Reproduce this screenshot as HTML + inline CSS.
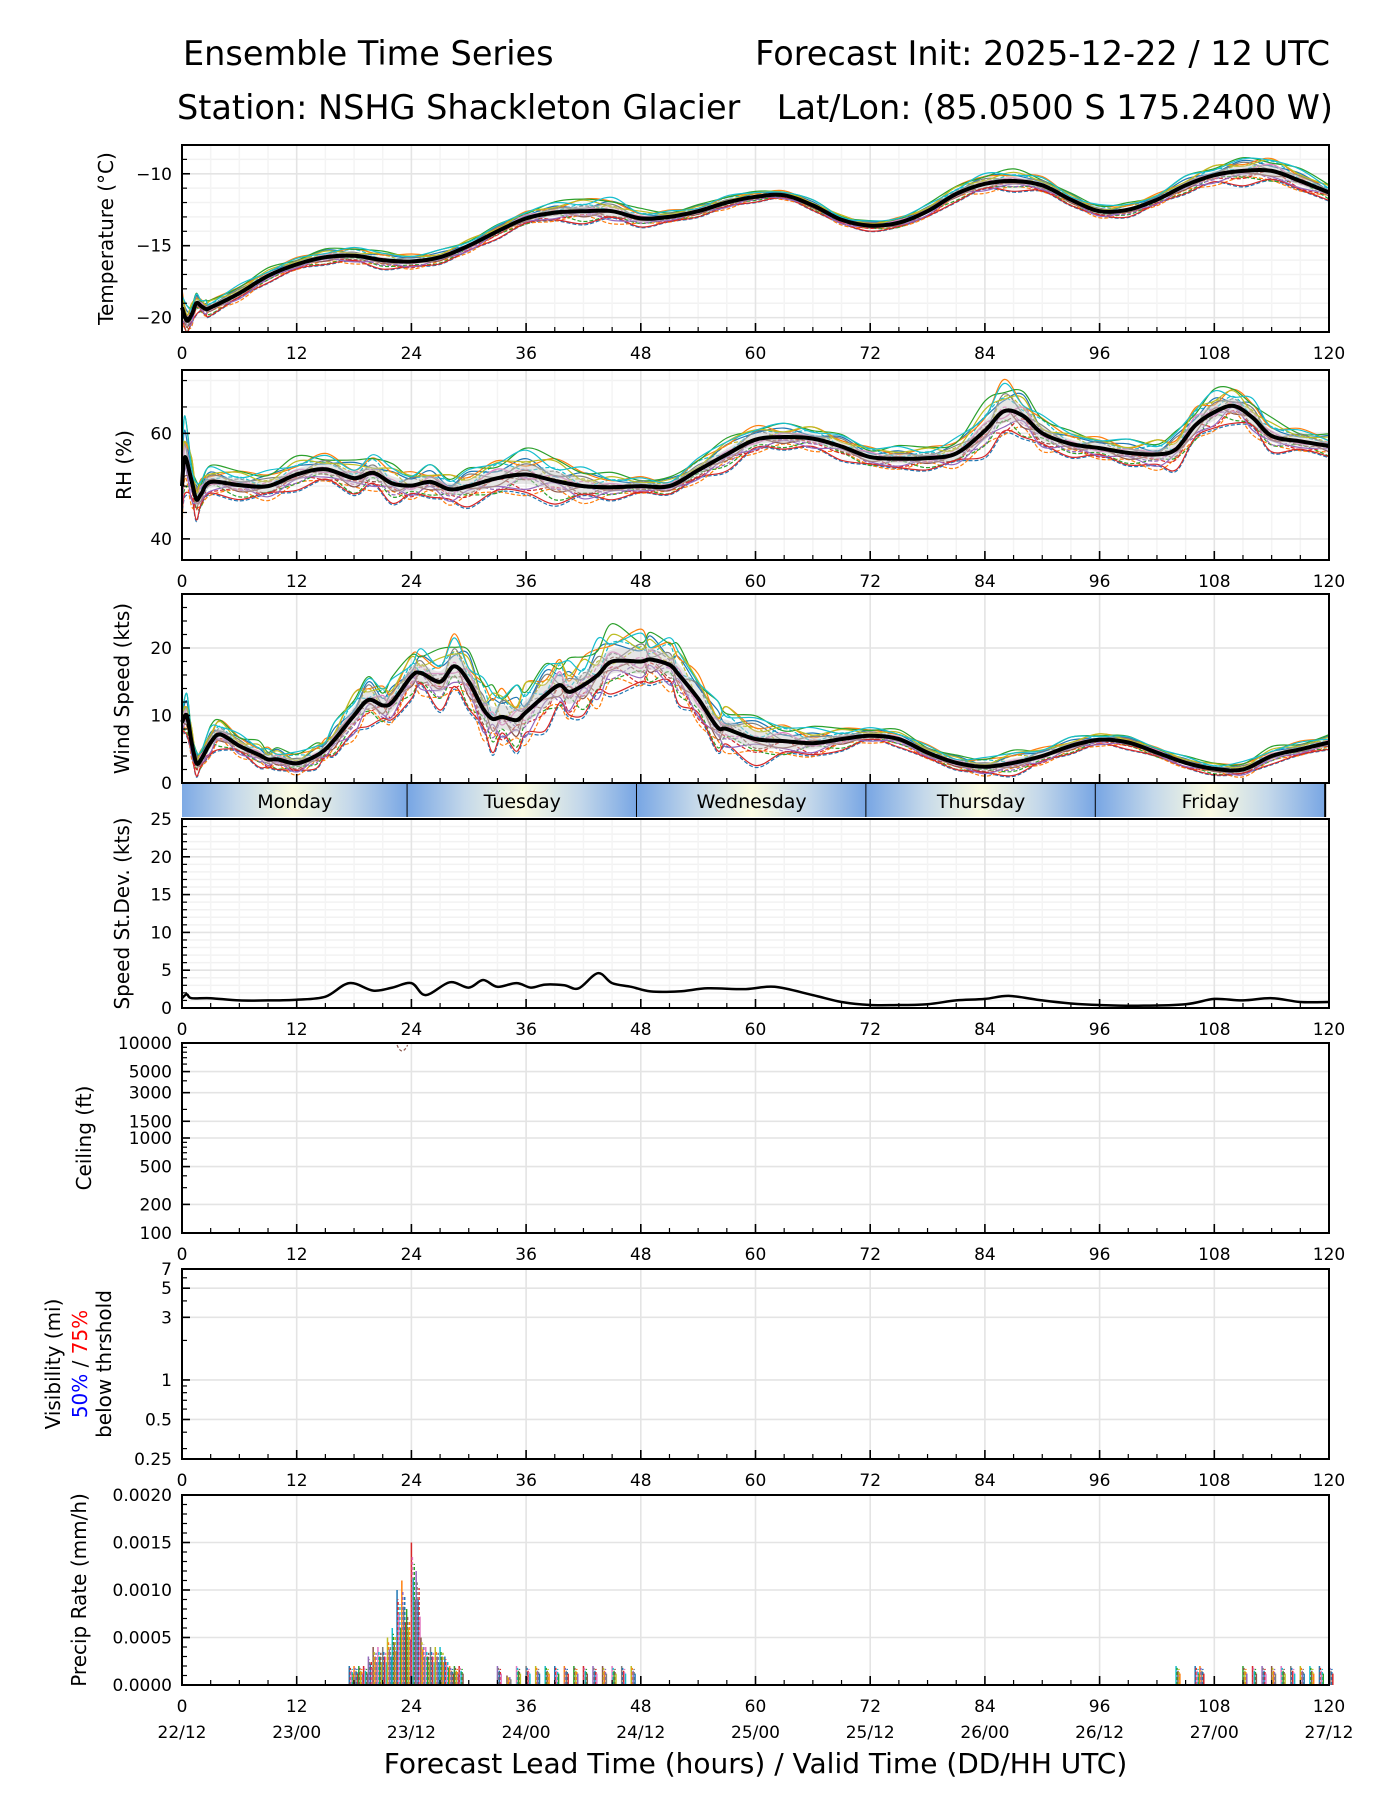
<!DOCTYPE html>
<html><head><meta charset="utf-8">
<style>
html,body{margin:0;padding:0;background:#fff;}
svg{display:block;font-family:"DejaVu Sans","Liberation Sans",sans-serif;}
</style></head>
<body>
<svg id="chart" width="1400" height="1800" viewBox="0 0 1400 1800" xmlns="http://www.w3.org/2000/svg">
<rect width="1400" height="1800" fill="#fff"/>
<text x="183" y="65" font-size="33.5">Ensemble Time Series</text>
<text x="1330" y="65" font-size="33.5" text-anchor="end">Forecast Init: 2025-12-22 / 12 UTC</text>
<text x="177" y="119" font-size="33.5">Station: NSHG Shackleton Glacier</text>
<text x="1333" y="119" font-size="33.5" text-anchor="end">Lat/Lon: (85.0500 S 175.2400 W)</text>
<g id="g"></g>
</svg>
<script>
// ---------- data ----------
const tempHours = [0,0.5,1,1.5,2,2.5,3,6,9,12,15,18,21,24,27,30,33,36,39,42,45,48,51,54,57,60,63,66,69,72,75,78,81,84,87,90,93,96,99,102,105,108,111,114,117,120];
const tempMean  = [-19.3,-20.2,-19.8,-19.0,-19.2,-19.4,-19.3,-18.3,-17.1,-16.3,-15.8,-15.7,-16.0,-16.1,-15.8,-15.0,-14.0,-13.1,-12.7,-12.6,-12.6,-13.1,-13.0,-12.6,-12.0,-11.6,-11.5,-12.2,-13.2,-13.6,-13.4,-12.6,-11.4,-10.7,-10.5,-10.8,-11.8,-12.6,-12.5,-11.8,-10.8,-10.1,-9.8,-9.8,-10.5,-11.3];
const tempSpread= [1.2,0.8,0.7,0.6,0.5,0.5,0.5,0.5,0.4,0.4,0.5,0.5,0.5,0.5,0.4,0.4,0.4,0.5,0.6,0.8,0.8,0.5,0.4,0.4,0.4,0.3,0.3,0.3,0.3,0.3,0.4,0.4,0.5,0.6,0.6,0.5,0.4,0.4,0.4,0.4,0.5,0.6,0.8,0.9,0.7,0.5];

const rhHours = [0,0.3,1,1.5,2,3,6,9,12,15,18,20,22,24,26,28,30,33,36,39,42,45,48,51,54,57,60,63,66,69,72,75,78,81,84,86,88,90,93,96,99,102,104,106,108,110,112,114,117,120];
const rhMean  = [50,55.5,51,47.5,48.5,50.8,50.2,50,52.2,53.2,51.5,52.5,50.5,50.1,50.8,49.4,50,51.5,52.2,51,50,49.8,50,50,53,56,58.8,59.3,59,57.5,55.5,55.2,55.3,56.2,60.5,64.2,63.3,60,58,57.2,56.3,56,57,61.5,64,65.2,63,59.5,58.5,57.6];
const rhSpread= [8,6,4,3,3,2.5,2.5,2.5,2.5,2.5,3,3,3,2.5,2.5,2.5,3,3.5,4,4,3,2,1.5,1.5,2,2.5,2.5,2,2,2,2,2,2,2.5,4,5,4,3,2,2,2,2.5,3,3.5,3.5,3,3,2.5,2,2];

const windHours = [0,0.5,1,1.5,2,3,4,6,8,9,10,12,14,15,16,18,19.5,21,22,24,25,27,28.5,30,31.5,32.5,33.5,35,36,38,39.5,40.5,42,43.5,45,48,49,51,52,54,56,57,60,63,66,69,72,75,78,81,84,87,90,93,96,99,102,105,108,111,114,117,120];
const windMean  = [9,10,6,3,3.5,6,7.2,5.5,4.2,3.5,3.5,2.9,4,5,6.5,10,12.3,11.5,12,15.8,16.3,15,17.3,15,11,9.5,9.8,9.3,10.5,13,14.5,13.5,14.5,16,18,18,18.3,17.5,16,12.5,8.3,8,6.5,6.2,5.9,6.5,7.0,6.5,4.5,3.0,2.4,3.0,4.0,5.5,6.4,6.0,4.5,3.0,2.1,2.0,4.0,5.0,6.0];
const windSpread= [2,2.5,2,1.5,1.5,2,2,1.5,1.5,1.5,1.5,1.5,1.5,1.5,2,3,3,3,3,3,3,3.5,4,4,4,4,4,4,4,4,4,4,4,4.5,4,4,3.5,3.5,3.5,3.5,3,3,3,2.5,2,1.5,1,1,1,1,1.2,1.5,1.2,1,0.8,0.8,0.8,0.8,0.8,1,1,1,1];

const sdHours = [0,0.5,1,3,6,9,12,15,17.5,20,22,24,25.5,28,30,31.5,33,35,36.5,38,40,41.5,43.5,45,47,49,52,55,59,62,66,69,72,75,78,81,84,86.5,90,93,96,100,105,108,111,114,117,120];
const sdMean  = [1.3,1.8,1.3,1.3,1.0,1.0,1.1,1.5,3.3,2.3,2.7,3.3,1.7,3.4,2.7,3.7,2.8,3.3,2.7,3.1,3.0,2.6,4.6,3.3,2.8,2.2,2.2,2.6,2.5,2.8,1.7,0.8,0.4,0.4,0.5,1.0,1.2,1.6,1.0,0.6,0.4,0.3,0.5,1.2,1.0,1.3,0.8,0.8];

const precipHours = [17.5,18,18.5,19,19.5,20,20.5,21,21.5,22,22.5,23,23.5,24,24.5,25,25.5,26,26.5,27,27.5,28,28.5,29,33,34,35,36,37,38,39,40,41,42,43,44,45,46,47,104,106,106.5,111,112,113,114,115,116,117,118,119,120];
const precipVals  = [0.0002,0.0002,0.0002,0.0002,0.0003,0.0004,0.0004,0.0004,0.0005,0.0006,0.0010,0.0011,0.0008,0.0015,0.0012,0.0005,0.0004,0.0004,0.0004,0.0004,0.0003,0.0002,0.0002,0.0002,0.0002,0.0001,0.0002,0.0002,0.0002,0.0002,0.0002,0.0002,0.0002,0.0002,0.0002,0.0002,0.0002,0.0002,0.0002,0.0002,0.0002,0.0002,0.0002,0.0002,0.0002,0.0002,0.0002,0.0002,0.0002,0.0002,0.0002,0.0002];

const memberFrac = [-1,-0.8,-0.6,-0.45,-0.3,-0.15,0,0.15,0.3,0.45,0.6,0.8,1,-0.9,-0.5,-0.2,0.1,0.35,0.7,0.9];
const memberWob  = [0.6,-0.5,0.3,-0.8,0.5,0.1,-0.4,0.8,-0.6,0.3,-0.2,0.5,-0.7];
const colors = ["#1f77b4","#ff7f0e","#2ca02c","#d62728","#9467bd","#8c564b","#e377c2","#7f7f7f","#bcbd22","#17becf"];

const dayNames = ["Monday","Tuesday","Wednesday","Thursday","Friday"];
const dayStarts = [-0.4,23.6,47.6,71.6,95.6];
const xTicks = [0,12,24,36,48,60,72,84,96,108,120];
const dateLabels = ["22/12","23/00","23/12","24/00","24/12","25/00","25/12","26/00","26/12","27/00","27/12"];

// ---------- layout ----------
const NS="http://www.w3.org/2000/svg";
const G=document.getElementById('g');
const X0=182,X1=1329;
function xs(h){return X0+(X1-X0)*h/120;}
function el(tag,attrs,parent){const e=document.createElementNS(NS,tag);for(const k in attrs)e.setAttribute(k,attrs[k]);(parent||G).appendChild(e);return e;}
function mkY(p){return v=>{if(p.log){const a=Math.log(p.min),b=Math.log(p.max);return p.bot-(p.bot-p.top)*(Math.log(v)-a)/(b-a);}return p.bot-(p.bot-p.top)*(v-p.min)/(p.max-p.min);};}
function pathStr(hs,vs,y){let d='';const P=hs.map((h,i)=>[xs(h),y(vs[i])]);
 for(let i=0;i<P.length;i++){if(i===0){d+='M'+P[0][0].toFixed(1)+' '+P[0][1].toFixed(1);continue;}
  const p0=P[Math.max(0,i-2)],p1=P[i-1],p2=P[i],p3=P[Math.min(P.length-1,i+1)];
  const c1x=p1[0]+(p2[0]-p0[0])/6,c1y=p1[1]+(p2[1]-p0[1])/6,c2x=p2[0]-(p3[0]-p1[0])/6,c2y=p2[1]-(p3[1]-p1[1])/6;
  d+='C'+c1x.toFixed(1)+' '+c1y.toFixed(1)+' '+c2x.toFixed(1)+' '+c2y.toFixed(1)+' '+p2[0].toFixed(1)+' '+p2[1].toFixed(1);}
 return d;}

const panels=[
 {name:'temperature',top:145,bot:332,min:-21,max:-8,major:[-20,-15,-10],labels:['\u221220','\u221215','\u221210'],minor:[-21,-19,-18,-17,-16,-14,-13,-12,-11,-9,-8],ylabel:['Temperature (°C)'],lx:113},
 {name:'rh',top:370,bot:560,min:36,max:72,major:[40,60],labels:['40','60'],minor:[45,50,55,65,70],ylabel:['RH (%)'],lx:131},
 {name:'wind',top:594,bot:783,min:0,max:28,major:[0,10,20],labels:['0','10','20'],minor:[2,4,6,8,12,14,16,18,22,24,26],ylabel:['Wind Speed (kts)'],lx:129,noXLabels:true},
 {name:'stdev',top:819,bot:1008,min:0,max:25,major:[0,5,10,15,20,25],labels:['0','5','10','15','20','25'],minor:[1,2,3,4,6,7,8,9,11,12,13,14,16,17,18,19,21,22,23,24],ylabel:['Speed St.Dev. (kts)'],lx:129,xminorGrid:true},
 {name:'ceiling',top:1043,bot:1233,min:100,max:10000,log:true,major:[100,200,500,1000,1500,3000,5000,10000],labels:['100','200','500','1000','1500','3000','5000','10000'],minor:[300,400,600,700,800,900,2000,4000,6000,7000,8000,9000],ylabel:['Ceiling (ft)'],lx:91},
 {name:'visibility',top:1269,bot:1459,min:0.25,max:7,log:true,major:[0.25,0.5,1,3,5,7],labels:['0.25','0.5','1','3','5','7'],minor:[0.3,0.4,0.6,0.7,0.8,0.9,2,4,6],ylabel:[],lx:0},
 {name:'precip',top:1495,bot:1685,min:0,max:0.002,major:[0,0.0005,0.001,0.0015,0.002],labels:['0.0000','0.0005','0.0010','0.0015','0.0020'],minor:[0.0001,0.0002,0.0003,0.0004,0.0006,0.0007,0.0008,0.0009,0.0011,0.0012,0.0013,0.0014,0.0016,0.0017,0.0018,0.0019],ylabel:['Precip Rate (mm/h)'],lx:86}
];

panels.forEach(p=>{
 p.y=mkY(p);
 const g=el('g',{});
 
 
 p.g=g;
 if(p.name==='temperature'||p.name==='rh'||p.name==='stdev'){
  p.minor.forEach(v=>el('line',{x1:X0,x2:X1,y1:p.y(v),y2:p.y(v),stroke:'#f2f2f2','stroke-width':1.5},g));
 }
 if(p.xminorGrid||p.name==='temperature'||p.name==='rh'){
  for(let h=3;h<120;h+=3){if(h%12)el('line',{x1:xs(h),x2:xs(h),y1:p.top,y2:p.bot,stroke:'#f4f4f4','stroke-width':1.5},g);}
 }
 xTicks.forEach(h=>el('line',{x1:xs(h),x2:xs(h),y1:p.top,y2:p.bot,stroke:'#e4e4e4','stroke-width':1.6},g));
 p.major.forEach(v=>el('line',{x1:X0,x2:X1,y1:p.y(v),y2:p.y(v),stroke:'#e4e4e4','stroke-width':1.6},g));
});

function ensemble(p,hs,mean,spread){
 const g=p.g;
 memberFrac.forEach((f,i)=>{
  const vals=mean.map((m,k)=>m+spread[k]*(f+0.5*memberWob[(k+i)%memberWob.length]));
  const path=el('path',{d:pathStr(hs,vals.map(v=>Math.max(p.min,v)),p.y),fill:'none',stroke:colors[i%10],'stroke-width':1.2,'stroke-dasharray':i<10?'4 2':'none','clip-path':'url(#clip-'+p.name+')'},g);
  
  
 });
 const up=mean.map((m,k)=>m+0.45*spread[k]),lo=mean.map((m,k)=>Math.max(p.min,m-0.45*spread[k]));
 const bd=pathStr(hs,up,p.y)+'L'+pathStr(hs.slice().reverse(),lo.slice().reverse(),p.y).slice(1)+'Z';
 const band=el('path',{d:bd,fill:'#c8c8c8','fill-opacity':0.45,stroke:'none'},g);
 
 
 const ml=el('path',{d:pathStr(hs,mean,p.y),fill:'none',stroke:'#000','stroke-width':4},g);
 
 
}
const defs=el('defs',{});
panels.forEach(p=>{const c=el('clipPath',{id:'clip-'+p.name},defs);el('rect',{x:X0,y:p.top,width:X1-X0,height:p.bot-p.top},c);});

ensemble(panels[0],tempHours,tempMean,tempSpread);
ensemble(panels[1],rhHours,rhMean,rhSpread);
ensemble(panels[2],windHours,windMean,windSpread);

{const p=panels[3];const l=el('path',{d:pathStr(sdHours,sdMean,p.y),fill:'none',stroke:'#000','stroke-width':2.5},p.g);
 
 }

{const p=panels[4];const b=el('path',{d:'M'+xs(22.5)+' '+(p.top+2)+' Q'+xs(23)+' '+(p.top+14)+' '+xs(23.6)+' '+(p.top+2),fill:'none',stroke:'#8c564b','stroke-width':1.2,'stroke-dasharray':'3 2'},p.g);
 
 }

{const p=panels[6];
 precipHours.forEach((h,i)=>{
  const n=5;
  for(let j=0;j<n;j++){
   const hh=h+j*0.1;
   const v=precipVals[i]*[1,0.9,0.75,0.85,0.6][j];
   const ln=el('line',{x1:xs(hh),x2:xs(hh),y1:p.y(0),y2:p.y(v),stroke:colors[(i+j*3)%10],'stroke-width':1.5,'stroke-dasharray':j%2===1?'3 2':'none'},p.g);
   
   
  }
 });
}

panels.forEach(p=>{
 const g=p.g;
 el('rect',{x:X0,y:p.top,width:X1-X0,height:p.bot-p.top,fill:'none',stroke:'#000','stroke-width':2},g);
 for(let h=0;h<=120;h+=3){const maj=h%12===0;el('line',{x1:xs(h),x2:xs(h),y1:p.bot,y2:p.bot-(maj?9:5),stroke:'#000','stroke-width':maj?1.6:1.2},g);}
 p.major.forEach((v,i)=>{
  el('line',{x1:X0,x2:X0+8,y1:p.y(v),y2:p.y(v),stroke:'#000','stroke-width':1.6},g);
  const t=el('text',{x:172,y:p.y(v)+6,'font-size':17,'text-anchor':'end'},g);t.textContent=p.labels[i];
  
  
 });
 p.minor.forEach(v=>el('line',{x1:X0,x2:X0+5,y1:p.y(v),y2:p.y(v),stroke:'#000','stroke-width':1.2},g));
 if(!p.noXLabels){
  xTicks.forEach(h=>{const t=el('text',{x:xs(h),y:p.bot+27,'font-size':17,'text-anchor':'middle'},g);t.textContent=String(h);
   
   });
 }
 p.ylabel.forEach(s=>{const t=el('text',{x:0,y:0,'font-size':20,'text-anchor':'middle',transform:'translate('+p.lx+','+((p.top+p.bot)/2)+') rotate(-90)'},g);t.textContent=s;
  
  });
});

{const p=panels[5];const cy=(p.top+p.bot)/2;
 const t1=el('text',{'font-size':20,'text-anchor':'middle',transform:'translate(60,'+cy+') rotate(-90)'},p.g);t1.textContent='Visibility (mi)';
 
 
 const t2=el('text',{'font-size':20,'text-anchor':'middle',transform:'translate(87,'+cy+') rotate(-90)'},p.g);
 const a=el('tspan',{fill:'#0000ff'},t2);a.textContent='50%';
 const b=el('tspan',{fill:'#000'},t2);b.textContent=' / ';
 const c=el('tspan',{fill:'#ff0000'},t2);c.textContent='75%';
 
 
 const t3=el('text',{'font-size':20,'text-anchor':'middle',transform:'translate(111,'+cy+') rotate(-90)'},p.g);t3.textContent='below thrshold';
 
 }

{const top=784,bot=817;
 const sg=el('g',{});
 
 
 const gr=el('linearGradient',{id:'dayg',x1:0,x2:1,y1:0,y2:0},defs);
 [[0,'#78a6e4'],[0.25,'#c4d8ea'],[0.5,'#fbfbe2'],[0.75,'#c4d8ea'],[1,'#78a6e4']].forEach(s=>el('stop',{offset:s[0],'stop-color':s[1]},gr));
 dayStarts.forEach((s,i)=>{
  const a=Math.max(s,0),b=Math.min(s+24,120);
  el('rect',{x:xs(s),y:top,width:xs(s+24)-xs(s),height:bot-top,fill:'url(#dayg)','clip-path':'url(#stripclip)'},sg);
  const t=el('text',{x:(xs(a)+xs(b))/2,y:top+24,'font-size':19,'text-anchor':'middle'},sg);t.textContent=dayNames[i];
  
  
  if(s+24<=120.5)el('line',{x1:xs(s+24),x2:xs(s+24),y1:top,y2:bot,stroke:'#000','stroke-width':2},sg);
 });
 const cp=el('clipPath',{id:'stripclip'},defs);el('rect',{x:X0,y:top,width:X1-X0,height:bot-top},cp);
}

dateLabels.forEach((s,i)=>{const t=el('text',{x:xs(xTicks[i]),y:1738,'font-size':17,'text-anchor':'middle'});t.textContent=s;
 
 });
{const t=el('text',{x:(X0+X1)/2,y:1773,'font-size':28,'text-anchor':'middle'});t.textContent='Forecast Lead Time (hours) / Valid Time (DD/HH UTC)';
 
 }
</script>
</body></html>
